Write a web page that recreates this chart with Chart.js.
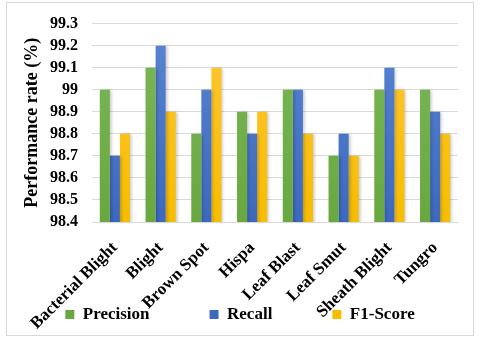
<!DOCTYPE html>
<html lang="en">
<head>
    <meta charset="UTF-8">
    <title>Performance rate</title>
    <script src="https://cdn.jsdelivr.net/npm/chart.js"></script>
    <style>
        body {
            margin: 0;
            padding: 0;
            background: #fff;
        }
        .frame {
            position: absolute;
            left: 6px;
            top: 2px;
            width: 466px;
            height: 332px;
            border: 1px solid #d9d9d9;
        }
        .chart-container {
            position: absolute;
            left: 0;
            top: 0;
            width: 480px;
            height: 340px;
        }
    </style>
</head>
<body>
    <div class="frame"></div>
    <div class="chart-container">
        <canvas id="perfChart" width="480" height="340"></canvas>
    </div>

    <script>
        const categories = ['Bacterial Blight', 'Blight', 'Brown Spot', 'Hispa', 'Leaf Blast', 'Leaf Smut', 'Sheath Blight', 'Tungro'];
        const precision = [99.0, 99.1, 98.8, 98.9, 99.0, 98.7, 99.0, 99.0];
        const recall    = [98.7, 99.2, 99.0, 98.8, 99.0, 98.8, 99.1, 98.9];
        const f1Score   = [98.8, 98.9, 99.1, 98.9, 98.8, 98.7, 99.0, 98.8];
        const yMin = 98.4, yMax = 99.3, yStep = 0.1;

        const serif = '"Liberation Serif", "Times New Roman", serif';

        // light-to-dark vertical fill over the plot area
        function vGrad(top, bottom) {
            return c => {
                const a = c.chart.chartArea;
                if (!a) return bottom;
                const g = c.chart.ctx.createLinearGradient(0, a.top, 0, a.bottom);
                g.addColorStop(0, top);
                g.addColorStop(1, bottom);
                return g;
            };
        }

        // soft drop shadow behind the bars
        const barShadow = {
            id: 'barShadow',
            beforeDatasetsDraw(chart) {
                const c = chart.ctx;
                c.save();
                c.shadowColor = 'rgba(0,0,0,0.22)';
                c.shadowBlur = 3;
                c.shadowOffsetX = 2;
                c.shadowOffsetY = 0;
            },
            afterDatasetsDraw(chart) {
                chart.ctx.restore();
            }
        };

        const ctx = document.getElementById('perfChart').getContext('2d');

        new Chart(ctx, {
            type: 'bar',
            data: {
                labels: categories,
                datasets: [
                    { label: 'Precision', data: precision, backgroundColor: vGrad('#7cb75a', '#68a83f') },
                    { label: 'Recall', data: recall, backgroundColor: vGrad('#5b86d2', '#3c68bf') },
                    { label: 'F1-Score', data: f1Score, backgroundColor: vGrad('#ffc636', '#f7bd00') }
                ]
            },
            plugins: [barShadow],
            options: {
                responsive: false,
                animation: false,
                maintainAspectRatio: false,
                categoryPercentage: 0.66,
                barPercentage: 1.0,
                layout: {
                    padding: { left: 0, right: 0, top: 18, bottom: 7 }
                },
                plugins: {
                    tooltip: { enabled: false },
                    legend: {
                        position: 'bottom',
                        labels: {
                            boxWidth: 9,
                            boxHeight: 9,
                            padding: 60,
                            color: '#000',
                            font: { family: serif, size: 17, weight: 'bold' }
                        }
                    }
                },
                scales: {
                    x: {
                        grid: { display: false, drawTicks: false },
                        border: { display: false },
                        ticks: {
                            minRotation: 45,
                            maxRotation: 45,
                            padding: 16,
                            color: '#000',
                            font: { family: serif, size: 17, weight: 'bold' }
                        },
                        // keep the axis short so the slanted labels run past the legend line, like the original
                        afterFit: s => {
                            s.height = 24;
                            s._computeLabelArea = () => undefined;
                        }
                    },
                    y: {
                        min: yMin,
                        max: yMax,
                        grid: { color: '#d9d9d9', drawTicks: false },
                        border: { display: false },
                        ticks: {
                            stepSize: yStep,
                            autoSkip: false,
                            padding: 14,
                            color: '#000',
                            font: { family: serif, size: 16, weight: 'bold' },
                            callback: v => String(+v.toFixed(1))
                        },
                        title: {
                            display: true,
                            text: 'Performance rate (%)',
                            color: '#000',
                            padding: { top: 22, bottom: 4 },
                            font: { family: serif, size: 18, weight: 'bold' }
                        },
                        afterFit: s => { s.width = 92; }
                    },
                    // empty axis on the right, only to leave the margin after the last group
                    yRight: {
                        position: 'right',
                        grid: { display: false },
                        border: { display: false },
                        ticks: { display: false },
                        afterFit: s => { s.width = 22; }
                    }
                }
            }
        });
    </script>
</body>
</html>
